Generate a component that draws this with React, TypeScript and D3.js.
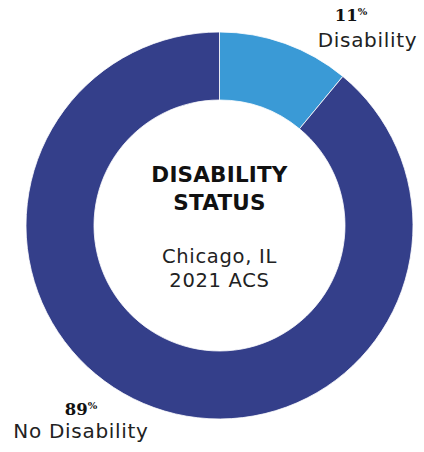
import React from "react";
import * as d3 from "d3";

const categories = ["Disability", "No Disability"];
const values = [11, 89];
const colors = ["#3A9AD6", "#343F8A"];
const titleLines = ["DISABILITY", "STATUS"];
const subtitleLines = ["Chicago, IL", "2021 ACS"];

const W = 424;
const H = 452;
const cx = 219.5;
const cy = 225.5;
const outerR = 193.5;
const innerR = 125.5;

const labelPos = [
  { nx: 351, tx: 367.5, ny: 21, ty: 47 },
  { nx: 81, tx: 81, ny: 415, ty: 438 },
];

export default function App() {
  const pie = d3.pie<number>().sort(null).value((d) => d);
  const arcs = pie(values);
  const arc = d3.arc<d3.PieArcDatum<number>>().innerRadius(innerR).outerRadius(outerR);
  const sans = "'DejaVu Sans', sans-serif";
  const serif = "'DejaVu Serif', serif";
  return (
    <svg width={W} height={H} style={{ position: "absolute", left: 0, top: 0 }}>
      <rect width={W} height={H} fill="#fff" />
      <g transform={`translate(${cx},${cy})`}>
        {arcs.map((a, i) => (
          <path key={i} d={arc(a) || ""} fill={colors[i]} stroke="#fff" strokeWidth={0.8} />
        ))}
      </g>
      {titleLines.map((t, i) => (
        <text key={t} x={cx} y={182 + i * 28} textAnchor="middle" fontFamily={sans} fontWeight={600}
          fontSize={21.5} fill="#111" letterSpacing={0.2}>{t}</text>
      ))}
      {subtitleLines.map((t, i) => (
        <text key={t} x={cx} y={263 + i * 24} textAnchor="middle" fontFamily={sans}
          fontSize={19.5} fill="#222" letterSpacing={0.7}>{t}</text>
      ))}
      {categories.map((c, i) => (
        <g key={c}>
          <text x={labelPos[i].nx} y={labelPos[i].ny} textAnchor="middle" fontFamily={serif}
            fontWeight="bold" fontSize={16.5} fill="#111">
            {values[i]}
            <tspan fontSize={10} dy={-6}>%</tspan>
          </text>
          <text x={labelPos[i].tx} y={labelPos[i].ty} textAnchor="middle" fontFamily={sans}
            fontSize={20} fill="#222" letterSpacing={0.7}>{c}</text>
        </g>
      ))}
    </svg>
  );
}
